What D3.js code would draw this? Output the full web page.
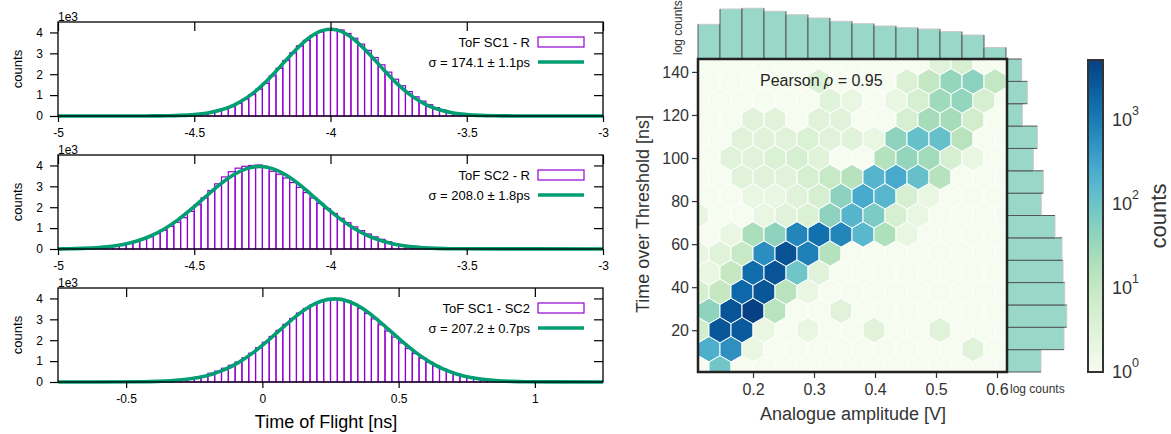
<!DOCTYPE html>
<html>
<head>
<meta charset="utf-8">
<script src="https://cdn.jsdelivr.net/npm/d3@7"></script>
<style>
  body { margin: 0; background: #fff; }
  svg { display: block; font-family: "Liberation Sans", Arial, sans-serif; }
</style>
</head>
<body>
<svg id="chart" width="1171" height="434"></svg>
<script>
(function() {

	// ---------- ToF histograms, counts in units of 1e3 ----------
	const binWidth = 0.025;

	const sc1rStart = -4.625;
	const sc1rCounts = [0.01, 0.015, 0.02, 0.035, 0.055, 0.08, 0.12, 0.17, 0.24, 0.33,
		0.45, 0.60, 0.80, 1.02, 1.28, 1.56, 1.92, 2.28, 2.66, 3.02,
		3.36, 3.62, 3.86, 4.02, 4.12, 4.18, 4.12, 3.95, 3.72, 3.44,
		3.14, 2.80, 2.45, 2.10, 1.76, 1.45, 1.17, 0.92, 0.71, 0.54,
		0.40, 0.28, 0.19, 0.13, 0.085, 0.055, 0.035, 0.022, 0.014, 0.008];
	const sc1rFitX = [-5, -4.7, -4.65, -4.6, -4.55, -4.5, -4.45, -4.4, -4.35, -4.3, -4.25,
		-4.2, -4.15, -4.1, -4.05, -4, -3.95, -3.9, -3.85, -3.8, -3.75, -3.7, -3.65,
		-3.6, -3.55, -3.5, -3.45, -3.4, -3.35, -3.3, -3];
	const sc1rFitY = [0, 0.001, 0.004, 0.011, 0.028, 0.067, 0.146, 0.295, 0.549, 0.939, 1.478,
		2.144, 2.862, 3.518, 3.982, 4.15, 3.982, 3.518, 2.862, 2.144, 1.478, 0.939, 0.549,
		0.295, 0.146, 0.067, 0.028, 0.011, 0.004, 0.001, 0];

	const sc2rStart = -4.975;
	const sc2rCounts = [0.013, 0.02, 0.03, 0.04, 0.06, 0.08, 0.11, 0.15, 0.20, 0.27,
		0.36, 0.46, 0.59, 0.74, 0.90, 1.08, 1.28, 1.50, 1.80, 2.12,
		2.45, 2.80, 3.12, 3.45, 3.70, 3.87, 3.96, 4.00, 4.02, 3.90,
		3.72, 3.58, 3.40, 3.18, 2.95, 2.70, 2.44, 2.18, 1.93, 1.70,
		1.47, 1.26, 1.06, 0.88, 0.72, 0.58, 0.46, 0.35, 0.26, 0.19,
		0.14, 0.10, 0.07, 0.05, 0.035, 0.022, 0.014];
	const sc2rFitX = [-5, -4.96, -4.91, -4.86, -4.81, -4.76, -4.71, -4.66, -4.61, -4.56, -4.51,
		-4.46, -4.41, -4.36, -4.31, -4.26, -4.21, -4.16, -4.11, -4.06, -4.01, -3.96, -3.91,
		-3.86, -3.81, -3.76, -3.71, -3.66, -3.61, -3.56, -3];
	const sc2rFitY = [0, 0.014, 0.030, 0.062, 0.120, 0.220, 0.380, 0.622, 0.959, 1.396, 1.918,
		2.488, 3.045, 3.519, 3.837, 3.95, 3.837, 3.519, 3.045, 2.488, 1.918, 1.396, 0.959,
		0.622, 0.380, 0.220, 0.120, 0.062, 0.030, 0.014, 0];

	const sc12Start = -0.45;
	const sc12Counts = [0.013, 0.02, 0.03, 0.042, 0.06, 0.085, 0.12, 0.16, 0.22, 0.30,
		0.42, 0.52, 0.66, 0.80, 0.96, 1.16, 1.38, 1.64, 1.90, 2.18,
		2.47, 2.76, 3.04, 3.30, 3.52, 3.70, 3.85, 3.94, 3.99, 3.96,
		3.88, 3.72, 3.52, 3.28, 3.02, 2.74, 2.44, 2.15, 1.87, 1.60,
		1.36, 1.14, 0.95, 0.78, 0.63, 0.50, 0.39, 0.30, 0.23, 0.17,
		0.125, 0.09, 0.065, 0.045, 0.03, 0.02, 0.014];
	const sc12FitX = [-0.75, -0.435, -0.385, -0.335, -0.285, -0.235, -0.185, -0.135, -0.085, -0.035, 0.015,
		0.065, 0.115, 0.165, 0.215, 0.265, 0.315, 0.365, 0.415, 0.465, 0.515, 0.565, 0.615,
		0.665, 0.715, 0.765, 0.815, 0.865, 0.915, 0.965, 1.25];
	const sc12FitY = [0, 0.013, 0.029, 0.060, 0.117, 0.215, 0.374, 0.615, 0.953, 1.393, 1.919,
		2.496, 3.061, 3.542, 3.865, 3.98, 3.865, 3.542, 3.061, 2.496, 1.919, 1.393, 0.953,
		0.615, 0.374, 0.215, 0.117, 0.060, 0.029, 0.013, 0];

	const tofTicksR = [-5, -4.5, -4, -3.5, -3];
	const tofTicksSC = [-0.5, 0, 0.5, 1];
	const countTicks = [0, 1, 2, 3, 4];

	// ---------- hexbin: counts per hexagon, rows from bottom ----------
	const hexRows = [
		[1, 90, 1, 1, 1, 1, 1, 1, 1, 1, 1, 1, 1, 1, 1],
		[220, 550, 2, 1, 1, 1, 1, 1, 1, 1, 1, 1, 3, 1],
		[6, 2800, 2500, 2, 1, 2, 1, 1, 3, 1, 1, 3, 1, 1, 1],
		[45, 3000, 5000, 15, 1, 1, 3, 1, 1, 1, 1, 1, 1, 1],
		[5, 10, 1800, 2800, 15, 2, 1, 1, 1, 1, 1, 1, 1, 1, 1],
		[2, 10, 1500, 3000, 95, 3, 1, 1, 1, 1, 1, 1, 1, 1],
		[2, 3, 9, 600, 3200, 900, 17, 1, 1, 1, 1, 1, 1, 1, 1],
		[1, 2, 22, 45, 750, 1400, 750, 160, 20, 2, 1, 1, 1, 1],
		[2, 1, 1, 2, 3, 4, 45, 180, 70, 5, 2, 1, 1, 1, 1],
		[1, 1, 2, 2, 3, 5, 48, 260, 170, 5, 2, 1, 1, 1],
		[1, 1, 3, 3, 3, 5, 9, 16, 180, 260, 120, 16, 1, 1, 1],
		[1, 3, 3, 4, 5, 3, 1, 1, 17, 40, 28, 5, 2, 1],
		[1, 1, 3, 3, 3, 4, 3, 3, 2, 45, 120, 120, 15, 1, 1],
		[1, 1, 3, 3, 1, 3, 3, 1, 1, 5, 25, 25, 6, 1],
		[1, 1, 1, 1, 1, 1, 3, 2, 1, 2, 5, 30, 40, 5, 1],
		[1, 1, 1, 1, 1, 4, 1, 1, 1, 4, 11, 40, 50, 11],
		[1, 1, 1, 1, 1, 1, 1, 1, 1, 1, 1, 3, 5, 1, 1]
	];
	// marginal histograms (log counts)
	const ampCounts = [24400, 100000, 107000, 81000, 59000, 43700, 32200, 25800, 20900, 17900, 15800, 12400, 9100, 2900];
	const totCounts = [13600, 79400, 97700, 83800, 73600, 68000, 39800, 13900, 16200, 7500, 10200, 3240, 4750, 3090];
	const ampTicks = [0.2, 0.3, 0.4, 0.5, 0.6];
	const totTicks = [20, 40, 60, 80, 100, 120, 140];
	const cbarTicks = [1, 10, 100, 1000];

	const purple = "#9400d3";
	const green = "#009e73";
	const svg = d3.select("#chart");

	drawTofPanel({top: 22, domain: [-5, -3], ticks: tofTicksR, start: sc1rStart, counts: sc1rCounts,
		fitX: sc1rFitX, fitY: sc1rFitY, name: "ToF SC1 - R", sigma: "σ = 174.1 ± 1.1ps"});
	drawTofPanel({top: 155, domain: [-5, -3], ticks: tofTicksR, start: sc2rStart, counts: sc2rCounts,
		fitX: sc2rFitX, fitY: sc2rFitY, name: "ToF SC2 - R", sigma: "σ = 208.0 ± 1.8ps"});
	drawTofPanel({top: 288, domain: [-0.75, 1.25], ticks: tofTicksSC, start: sc12Start, counts: sc12Counts,
		fitX: sc12FitX, fitY: sc12FitY, name: "ToF SC1 - SC2", sigma: "σ = 207.2 ± 0.7ps"});

	svg.append("text")
		.attr("x", 326).attr("y", 428)
		.attr("text-anchor", "middle")
		.attr("font-size", 18)
		.text("Time of Flight [ns]");

	drawHexbin();

	function drawTofPanel(p) {
		const left = 58, right = 603, h = 94;
		const top = p.top, bottom = p.top + h;
		const x = d3.scaleLinear().domain(p.domain).range([left, right]);
		const y = d3.scaleLinear().domain([0, 4.5]).range([bottom, top]);
		const g = svg.append("g");

		g.append("g").selectAll("rect")
			.data(p.counts)
			.join("rect")
			.attr("x", (d, i) => x(p.start + i * binWidth))
			.attr("width", (d, i) => x(p.start + (i + 1) * binWidth) - x(p.start + i * binWidth))
			.attr("y", d => y(d))
			.attr("height", d => y(0) - y(d))
			.attr("fill", "none")
			.attr("stroke", purple)
			.attr("stroke-width", 1.2);

		const line = d3.line()
			.x((d, i) => x(p.fitX[i]))
			.y(d => y(d))
			.curve(d3.curveMonotoneX);
		g.append("path")
			.attr("d", line(p.fitY))
			.attr("fill", "none")
			.attr("stroke", green)
			.attr("stroke-width", 3.6);

		g.append("rect")
			.attr("x", left).attr("y", top)
			.attr("width", right - left).attr("height", h)
			.attr("fill", "none").attr("stroke", "#000").attr("stroke-width", 1.3);

		const axisStyle = sel => {
			sel.attr("font-size", 12).attr("font-family", null);
			sel.select(".domain").remove();
			sel.selectAll("line").attr("stroke", "#000").attr("stroke-width", 1.2);
			sel.selectAll("text").attr("fill", "#000");
		};
		// plain hyphen minus signs, as in the original
		const plain = d => String(d);
		g.append("g").attr("transform", `translate(${left},0)`)
			.call(d3.axisLeft(y).tickValues(countTicks).tickSize(8).tickPadding(7).tickFormat(plain))
			.call(axisStyle);
		g.append("g").attr("transform", `translate(${right},0)`)
			.call(d3.axisRight(y).tickValues(countTicks.slice(1)).tickSize(-9).tickFormat(""))
			.call(axisStyle);
		g.append("g").attr("transform", `translate(0,${top})`)
			.call(d3.axisTop(x).tickValues(p.ticks).tickSize(-9).tickFormat(""))
			.call(axisStyle);
		g.append("g").attr("transform", `translate(0,${bottom})`)
			.call(d3.axisBottom(x).tickValues(p.ticks).tickSize(6).tickPadding(6.5).tickFormat(plain))
			.call(axisStyle);

		g.append("text").attr("x", left).attr("y", top - 1)
			.attr("font-size", 12).text("1e3");
		g.append("text")
			.attr("transform", `translate(22,${(top + bottom) / 2}) rotate(-90)`)
			.attr("text-anchor", "middle").attr("font-size", 13)
			.text("counts");

		// legend
		g.append("text").attr("x", 530).attr("y", top + 24.5)
			.attr("text-anchor", "end").attr("font-size", 13).text(p.name);
		g.append("rect").attr("x", 538).attr("y", top + 15)
			.attr("width", 46).attr("height", 10)
			.attr("fill", "#fff").attr("stroke", purple).attr("stroke-width", 1.2);
		g.append("text").attr("x", 530).attr("y", top + 44.5)
			.attr("text-anchor", "end").attr("font-size", 13).text(p.sigma);
		g.append("line").attr("x1", 538).attr("x2", 584)
			.attr("y1", top + 40).attr("y2", top + 40)
			.attr("stroke", green).attr("stroke-width", 3.6);
	}

	function drawHexbin() {
		const L = 698, R = 1007, T = 59, B = 372;
		const x = d3.scaleLinear().domain([0.1098, 0.6164]).range([L, R]);
		const y = d3.scaleLinear().domain([0.6, 146]).range([B, T]);
		// hexagon lattice (matplotlib style, gridsize 14)
		const hxMin = 0.1098, hsx = 0.03607, hyMin = 2.35, hsy = 17.77;
		const color = d3.scaleSequentialLog(d3.interpolateGnBu).domain([1, 5200]);
		const ink = "#333";

		const defs = svg.append("defs");
		defs.append("clipPath").attr("id", "hexclip")
			.append("rect").attr("x", L).attr("y", T).attr("width", R - L).attr("height", B - T);

		svg.append("rect").attr("x", L).attr("y", T).attr("width", R - L).attr("height", B - T)
			.attr("fill", color(1));

		const cells = [];
		hexRows.forEach((row, j) => {
			row.forEach((c, i) => {
				cells.push({
					cx: hxMin + (i + (j % 2 ? 0.5 : 0)) * hsx,
					cy: hyMin + j * hsy / 2,
					count: c
				});
			});
		});
		const hexPoints = d => [[0.5, 1 / 6], [0, 1 / 3], [-0.5, 1 / 6], [-0.5, -1 / 6], [0, -1 / 3], [0.5, -1 / 6]]
			.map(([a, b]) => [x(d.cx + a * hsx), y(d.cy + b * hsy)].join(","))
			.join(" ");

		svg.append("g").attr("clip-path", "url(#hexclip)")
			.selectAll("polygon")
			.data(cells)
			.join("polygon")
			.attr("points", hexPoints)
			.attr("fill", d => color(Math.max(1, d.count)))
			.attr("stroke", "#fff")
			.attr("stroke-width", 1);

		svg.append("text").attr("x", 760).attr("y", 86)
			.attr("font-size", 16).attr("fill", "#262626")
			.call(t => {
				t.append("tspan").text("Pearson ");
				t.append("tspan").attr("font-style", "italic").text("ρ");
				t.append("tspan").text(" = 0.95");
			});

		// marginal histograms
		const topY = d3.scaleLog().domain([1000, 100000]).range([T, T - 50]);
		const topG = svg.append("g");
		ampCounts.forEach((c, k) => {
			const x0 = x(hxMin + k * hsx), x1 = x(hxMin + (k + 1) * hsx);
			topG.append("rect").attr("x", x0).attr("y", topY(c))
				.attr("width", x1 - x0).attr("height", T - topY(c))
				.attr("fill", "#99d8c9");
			topG.append("line").attr("x1", x0).attr("x2", x1).attr("y1", topY(c)).attr("y2", topY(c))
				.attr("stroke", "#c8c8c8").attr("stroke-width", 1);
			[x0, x1].forEach(xe => topG.append("line")
				.attr("x1", xe).attr("x2", xe).attr("y1", T).attr("y2", topY(c))
				.attr("stroke", "#555").attr("stroke-width", 1));
		});
		const binH = (146 - 0.6) / totCounts.length;
		const rightX = d3.scaleLog().domain([1000, 100000]).range([R, R + 60]);
		const rightG = svg.append("g");
		totCounts.forEach((c, k) => {
			const y0 = y(0.6 + k * binH), y1 = y(0.6 + (k + 1) * binH);
			rightG.append("rect").attr("x", R).attr("y", y1)
				.attr("width", rightX(c) - R).attr("height", y0 - y1)
				.attr("fill", "#99d8c9");
			rightG.append("line").attr("x1", rightX(c)).attr("x2", rightX(c)).attr("y1", y0).attr("y2", y1)
				.attr("stroke", "#c8c8c8").attr("stroke-width", 1);
			[y0, y1].forEach(ye => rightG.append("line")
				.attr("x1", R).attr("x2", rightX(c)).attr("y1", ye).attr("y2", ye)
				.attr("stroke", "#555").attr("stroke-width", 1));
		});
		svg.append("text")
			.attr("transform", `translate(682,55) rotate(-90)`)
			.attr("font-size", 12).attr("fill", ink).text("log counts");
		svg.append("text").attr("x", 1010).attr("y", 393)
			.attr("font-size", 12).attr("fill", ink).text("log counts");

		// frame and axes
		svg.append("rect").attr("x", L).attr("y", T).attr("width", R - L).attr("height", B - T)
			.attr("fill", "none").attr("stroke", "#222").attr("stroke-width", 2.5);

		const axisStyle = sel => {
			sel.attr("font-size", 16).attr("font-family", null);
			sel.select(".domain").remove();
			sel.selectAll("line").attr("stroke", ink).attr("stroke-width", 1.2);
			sel.selectAll("text").attr("fill", ink);
		};
		svg.append("g").attr("transform", `translate(${L - 1},0)`)
			.call(d3.axisLeft(y).tickValues(totTicks).tickSize(5).tickPadding(3))
			.call(axisStyle);
		svg.append("g").attr("transform", `translate(0,${B + 1})`)
			.call(d3.axisBottom(x).tickValues(ampTicks).tickSize(5).tickPadding(5.5).tickFormat(d3.format(".1f")))
			.call(axisStyle);

		svg.append("text")
			.attr("transform", `translate(649,214) rotate(-90)`)
			.attr("text-anchor", "middle").attr("font-size", 18).attr("fill", ink)
			.text("Time over Threshold [ns]");
		svg.append("text").attr("x", 853).attr("y", 420)
			.attr("text-anchor", "middle").attr("font-size", 18).attr("fill", ink)
			.text("Analogue amplitude [V]");

		// colorbar
		const cbX = 1088, cbW = 15, cbT = 60, cbB = 372;
		const cb = d3.scaleLog().domain([1, 5200]).range([cbB, cbT]);
		const grad = defs.append("linearGradient").attr("id", "cbgrad")
			.attr("x1", 0).attr("x2", 0).attr("y1", 1).attr("y2", 0);
		d3.range(0, 1.0001, 0.05).forEach(t => grad.append("stop")
			.attr("offset", t).attr("stop-color", d3.interpolateGnBu(t)));
		svg.append("rect").attr("x", cbX).attr("y", cbT).attr("width", cbW).attr("height", cbB - cbT)
			.attr("fill", "url(#cbgrad)").attr("stroke", "#333").attr("stroke-width", 2);
		cbarTicks.forEach(v => {
			const t = svg.append("text").attr("x", 1112).attr("y", cb(v) + 6.3)
				.attr("font-size", 18).attr("fill", ink).text("10");
			t.append("tspan").attr("dy", -11).attr("font-size", 12.5).text(Math.round(Math.log10(v)));
		});
		svg.append("text")
			.attr("transform", `translate(1166,216) rotate(-90)`)
			.attr("text-anchor", "middle").attr("font-size", 22).attr("fill", ink)
			.text("counts");
	}
})();
</script>
</body>
</html>
